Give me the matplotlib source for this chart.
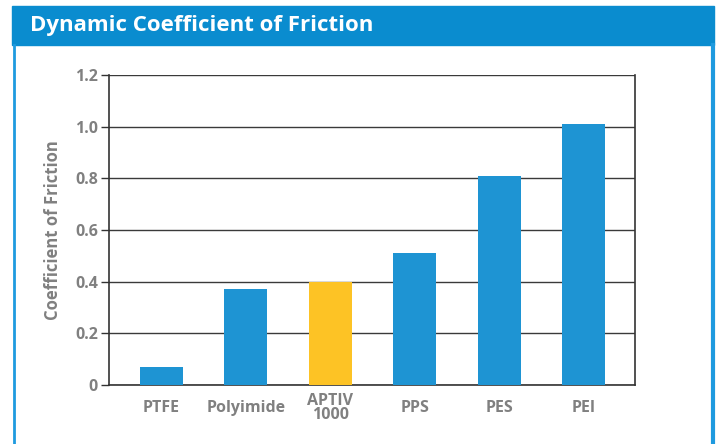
import matplotlib
matplotlib.use('Agg')
import matplotlib.pyplot as plt
from matplotlib.patches import Rectangle
from matplotlib.lines import Line2D

materials = ["PTFE", "Polyimide", "APTIV\n1000", "PPS", "PES", "PEI"]
friction  = [0.07, 0.37, 0.40, 0.51, 0.81, 1.01]
highlight = "APTIV\n1000"

BLUE   = "#1E94D3"
YELLOW = "#FDC325"
HEADER = "#0A8CCF"
GRAY   = "#808080"

plt.rcParams['font.family'] = ['Open Sans', 'DejaVu Sans']

W, H = 717, 444
fig = plt.figure(figsize=(W / 100, H / 100), dpi=100)
fig.patch.set_facecolor("white")

def fx(px): return px / W
def fy(py): return 1 - py / H

# header band and side borders
fig.patches.append(Rectangle((fx(12), fy(45)), fx(714) - fx(12), fy(6) - fy(45),
                             transform=fig.transFigure, color=HEADER, zorder=0))
fig.lines.append(Line2D([fx(14), fx(14)], [fy(45), 0], transform=fig.transFigure,
                        color="#1E9ADF", lw=2))
fig.lines.append(Line2D([fx(712.5), fx(712.5)], [fy(45), 0], transform=fig.transFigure,
                        color="#1E9ADF", lw=3))
fig.text(fx(30), fy(25), "Dynamic Coefficient of Friction", color="white",
         fontsize=16, fontweight="bold", va="center", ha="left")

ax = fig.add_axes([fx(109), fy(385), fx(635) - fx(109), fy(75) - fy(385)])
x = list(range(len(materials)))
colors = [YELLOW if m == highlight else BLUE for m in materials]
ax.bar(x, friction, width=0.51, color=colors, zorder=3)

ax.set_ylim(0, 1.2)
ax.set_xlim(-0.62, 5.61)
yt = [0, 0.2, 0.4, 0.6, 0.8, 1.0, 1.2]
ax.set_yticks(yt)
ax.set_yticklabels(["0", "0.2", "0.4", "0.6", "0.8", "1.0", "1.2"])
ax.yaxis.grid(True, color="#3a3a3a", lw=1.0, zorder=1)
ax.set_axisbelow(True)
ax.set_xticks(x)
ax.set_xticklabels(materials, linespacing=0.8, va="center")
ax.tick_params(axis="x", length=0, pad=16.5)
ax.tick_params(axis="y", length=6, width=1, color="#333333", pad=2)
for lbl in ax.get_xticklabels() + ax.get_yticklabels():
    lbl.set_color(GRAY)
    lbl.set_fontweight("bold")
    lbl.set_fontsize(11.5)
for s in ["top"]:
    ax.spines[s].set_visible(False)
for s in ["left", "right", "bottom"]:
    ax.spines[s].set_color("#333333")
    ax.spines[s].set_linewidth(1.2)
ax.set_ylabel("Coefficient of Friction", color=GRAY, fontweight="bold",
              fontsize=12, labelpad=9)

fig.savefig("out.png", dpi=100, facecolor="white")
